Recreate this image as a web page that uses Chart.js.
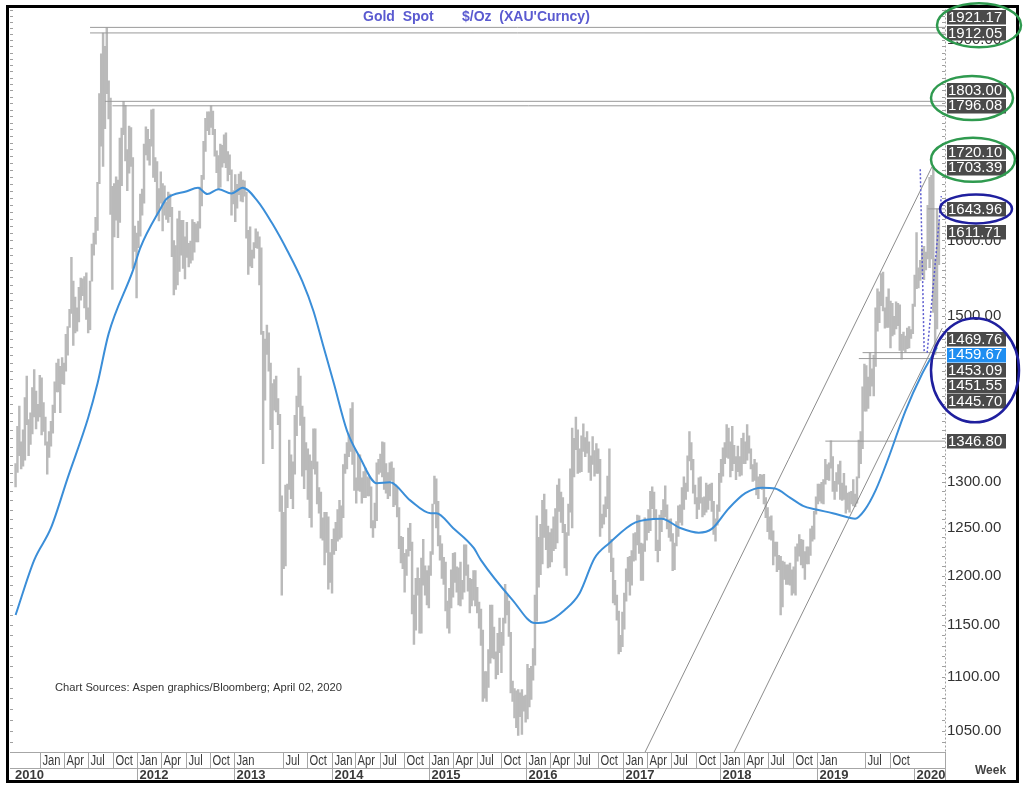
<!DOCTYPE html>
<html><head><meta charset="utf-8">
<script src="https://cdn.jsdelivr.net/npm/chart.js@4"></script>
<style>html,body{margin:0;padding:0;background:#fff}canvas{display:block}</style>
</head><body>
<canvas id="c" width="1024" height="788"></canvas>
<script>
// ---------- DATA ----------
const startDate = '2010-10-01';   // week-ending date of the first weekly bar
const axisStart = '2010-09-10';
const axisEnd = '2020-04-26';

// weekly [low, high] gold spot, $/oz
const w2010 = [[1295,1321],[1311,1364],[1330,1388],[1315,1346],[1318,1360],[1325,1398],[1366,1424],[1330,1372],[1343,1380],[1355,1410],[1375,1432],[1361,1406],[1370,1390],[1375,1425]];
const w2011 = [[1354,1422],[1358,1392],[1342,1375],[1309,1346],[1328,1358],[1341,1370],[1356,1389],[1380,1417],[1405,1440],[1405,1445],[1380,1436],[1415,1447],[1414,1440],[1430,1476],[1450,1486],[1485,1508],[1503,1577],[1462,1545],[1478,1524],[1480,1510],[1492,1537],[1520,1549],[1526,1548],[1510,1551],[1495,1556],[1478,1510],[1482,1545],[1545,1595],[1580,1610],[1595,1632],[1614,1682],[1680,1815],[1735,1878],[1705,1912],[1761,1890],[1815,1921],[1776,1835],[1636,1808],[1534,1676],[1605,1680],[1628,1690],[1604,1685],[1625,1747],[1677,1762],[1752,1803],[1713,1797],[1670,1730],[1695,1765],[1705,1763],[1562,1718],[1585,1620],[1523,1610]];
const w2012 = [[1590,1627],[1606,1665],[1635,1672],[1652,1738],[1722,1764],[1714,1760],[1707,1745],[1735,1790],[1689,1791],[1683,1718],[1635,1712],[1627,1673],[1652,1697],[1613,1680],[1635,1677],[1629,1654],[1625,1668],[1633,1665],[1578,1646],[1527,1600],[1534,1593],[1540,1630],[1558,1641],[1580,1628],[1562,1628],[1548,1605],[1577,1625],[1564,1596],[1569,1599],[1573,1629],[1584,1625],[1598,1623],[1598,1626],[1617,1675],[1648,1692],[1686,1742],[1727,1777],[1758,1787],[1752,1787],[1763,1796],[1752,1788],[1720,1760],[1696,1728],[1672,1721],[1675,1738],[1704,1736],[1710,1752],[1703,1755],[1684,1727],[1693,1722],[1635,1700],[1651,1670]];
const w2013 = [[1626,1693],[1645,1679],[1664,1694],[1655,1697],[1654,1685],[1662,1684],[1603,1668],[1554,1614],[1565,1619],[1563,1587],[1576,1597],[1590,1616],[1589,1612],[1540,1605],[1476,1590],[1321,1480],[1395,1470],[1451,1488],[1430,1478],[1360,1440],[1338,1415],[1383,1420],[1381,1424],[1366,1397],[1268,1378],[1180,1285],[1207,1267],[1210,1297],[1272,1298],[1292,1348],[1282,1331],[1271,1323],[1309,1377],[1353,1400],[1387,1434],[1365,1424],[1307,1388],[1293,1375],[1314,1345],[1281,1338],[1261,1331],[1251,1324],[1315,1361],[1309,1361],[1276,1323],[1266,1294],[1239,1289],[1237,1261],[1211,1267],[1224,1267],[1186,1262],[1193,1224]];
const w2014 = [[1182,1238],[1222,1249],[1226,1256],[1236,1270],[1238,1280],[1240,1274],[1261,1320],[1310,1332],[1315,1345],[1329,1355],[1335,1385],[1320,1392],[1291,1338],[1277,1305],[1291,1332],[1290,1331],[1277,1305],[1283,1312],[1283,1316],[1285,1306],[1285,1305],[1250,1295],[1240,1258],[1250,1277],[1258,1322],[1309,1326],[1311,1332],[1306,1346],[1292,1345],[1288,1321],[1282,1311],[1285,1322],[1302,1323],[1273,1316],[1275,1297],[1262,1294],[1228,1272],[1213,1241],[1207,1240],[1183,1223],[1200,1227],[1220,1250],[1226,1255],[1161,1235],[1131,1180],[1145,1197],[1180,1208],[1142,1197],[1142,1218],[1190,1238],[1180,1210],[1170,1205]];
const w2015 = [[1167,1210],[1200,1225],[1222,1276],[1276,1307],[1250,1304],[1231,1279],[1216,1242],[1197,1233],[1191,1219],[1164,1214],[1147,1174],[1142,1187],[1167,1206],[1178,1223],[1193,1224],[1183,1209],[1170,1208],[1169,1214],[1176,1195],[1183,1232],[1200,1232],[1184,1211],[1162,1197],[1169,1196],[1175,1205],[1169,1205],[1162,1188],[1147,1173],[1130,1166],[1077,1145],[1080,1105],[1077,1105],[1090,1126],[1113,1170],[1118,1170],[1117,1148],[1098,1124],[1102,1142],[1123,1157],[1104,1143],[1130,1157],[1152,1191],[1160,1180],[1139,1174],[1085,1143],[1077,1096],[1062,1089],[1053,1087],[1046,1088],[1063,1085],[1047,1088],[1068,1082]];
const w2016 = [[1058,1083],[1061,1112],[1072,1108],[1079,1110],[1097,1127],[1111,1180],[1154,1263],[1188,1240],[1201,1254],[1212,1280],[1240,1287],[1227,1270],[1208,1252],[1209,1245],[1214,1249],[1226,1262],[1228,1271],[1234,1297],[1268,1304],[1256,1289],[1245,1283],[1208,1254],[1200,1245],[1242,1276],[1267,1315],[1250,1362],[1306,1350],[1337,1375],[1310,1360],[1311,1338],[1312,1353],[1335,1367],[1329,1351],[1333,1358],[1311,1346],[1302,1330],[1320,1352],[1307,1336],[1310,1344],[1310,1338],[1241,1326],[1250,1265],[1254,1275],[1262,1284],[1271,1307],[1224,1338],[1204,1238],[1172,1218],[1170,1195],[1155,1180],[1122,1164],[1124,1140],[1129,1163]];
const w2017 = [[1146,1182],[1174,1207],[1194,1219],[1180,1220],[1190,1226],[1215,1244],[1216,1245],[1232,1264],[1223,1263],[1195,1234],[1195,1233],[1225,1261],[1237,1259],[1245,1270],[1247,1290],[1271,1295],[1260,1289],[1226,1270],[1214,1237],[1226,1264],[1246,1269],[1259,1281],[1262,1296],[1249,1275],[1240,1259],[1236,1260],[1205,1244],[1206,1234],[1231,1257],[1241,1274],[1256,1275],[1253,1294],[1270,1306],[1281,1299],[1290,1330],[1324,1358],[1314,1345],[1288,1326],[1276,1297],[1260,1283],[1270,1305],[1277,1306],[1262,1283],[1264,1284],[1267,1299],[1270,1297],[1280,1298],[1268,1299],[1243,1279],[1236,1260],[1253,1275],[1268,1310]];
const w2018 = [[1300,1326],[1307,1339],[1321,1345],[1328,1366],[1327,1362],[1306,1346],[1313,1364],[1321,1342],[1303,1329],[1312,1341],[1307,1329],[1308,1350],[1321,1356],[1321,1346],[1325,1366],[1333,1353],[1315,1338],[1301,1320],[1302,1326],[1286,1322],[1282,1306],[1293,1309],[1292,1308],[1276,1309],[1261,1283],[1246,1272],[1238,1262],[1237,1263],[1211,1247],[1220,1235],[1204,1235],[1206,1221],[1160,1220],[1168,1215],[1196,1214],[1191,1211],[1191,1211],[1190,1213],[1180,1206],[1182,1209],[1180,1230],[1215,1233],[1220,1243],[1211,1238],[1208,1237],[1196,1225],[1212,1230],[1212,1230],[1221,1249],[1236,1252],[1238,1268],[1265,1284]];
const w2019 = [[1276,1298],[1279,1298],[1277,1300],[1276,1303],[1298,1326],[1303,1320],[1302,1322],[1316,1347],[1290,1329],[1281,1301],[1290,1311],[1298,1320],[1281,1324],[1280,1299],[1281,1310],[1266,1296],[1270,1288],[1267,1289],[1276,1290],[1274,1303],[1273,1287],[1277,1306],[1305,1348],[1321,1358],[1338,1411],[1382,1439],[1382,1437],[1385,1423],[1400,1453],[1412,1433],[1400,1450],[1436,1510],[1480,1535],[1491,1531],[1513,1555],[1506,1557],[1484,1510],[1485,1524],[1485,1535],[1459,1519],[1474,1516],[1476,1499],[1483,1518],[1487,1516],[1456,1514],[1445,1476],[1456,1479],[1454,1474],[1458,1484],[1459,1486],[1471,1482],[1477,1515]];
const w2020 = [[1512,1553],[1535,1611],[1536,1563],[1546,1573],[1555,1589],[1547,1592],[1560,1584],[1575,1649],[1563,1689],[1575,1692],[1504,1703],[1451,1575],[1483,1644],[1567,1626]];

// 52-week moving average (week index, value)
const maWeek  = [0,10,19,28,39,44,50,63,67,78,81,92,98,103,109,116,122,130,138,146,154,160,165,171,178,185,194,201,212,223,226,235,246,250,267,279,285,295,303,311,319,333,347,357,367,374,383,392,401,408,416,423,430,439,448,451,456,462,469,478,487,495];
const maValue = [1160,1216,1250,1305,1374,1415,1477,1559,1590,1645,1658,1669,1674,1665,1672,1666,1674,1655,1623,1586,1545,1506,1464,1415,1359,1328,1299,1300,1280,1266,1266,1250,1229,1216,1175,1152,1153,1165,1182,1218,1234,1256,1260,1250,1245,1249,1271,1288,1294,1293,1283,1274,1270,1266,1261,1260,1269,1291,1328,1382,1427,1459.67];

// horizontal levels (value, week where the line starts)
const levelValues    = [1921.17,1912.05,1803.00,1796.08,1643.96,1453.09,1445.70,1346.80];
const levelStartWeek = [40,40,48,52,490,455,453,435];

// channel & dip annotations as [week, value]
const trendUpper = [[338.2,1031.3],[492.4,1705]];
const trendLower = [[386.0,1031.3],[497.8,1484]];
const dipLeft    = [[486.0,1701],[488.1,1453]];
const dipRight   = [[489.7,1453],[497.3,1662]];

// axis labels
const yTicks = [1050,1100,1150,1200,1250,1300,1500,1600,1900];
const yMin = 1031.3, yMax = 1950.9;
const monthNames = ['Jan','Feb','Mar','Apr','May','Jun','Jul','Aug','Sep','Oct','Nov','Dec'];
const monthTicks = ['2011-01-01','2011-04-01','2011-07-01','2011-10-01','2012-01-01','2012-04-01','2012-07-01','2012-10-01','2013-01-01','2013-07-01','2013-10-01','2014-01-01','2014-04-01','2014-07-01','2014-10-01','2015-01-01','2015-04-01','2015-07-01','2015-10-01','2016-01-01','2016-04-01','2016-07-01','2016-10-01','2017-01-01','2017-04-01','2017-07-01','2017-10-01','2018-01-01','2018-04-01','2018-07-01','2018-10-01','2019-01-01','2019-07-01','2019-10-01'];
const firstYearLabel = '2010';
const yearTicks = ['2012','2013','2014','2015','2016','2017','2018','2019','2020'];

// right-hand value boxes
const rightLabels = [1921.17,1912.05,1803.00,1796.08,1720.10,1703.39,1643.96,1611.71,1469.76,1459.67,1453.09,1451.55,1445.70,1346.80];
const lastPrice = 1611.71;
const maLabel = 1459.67;
const ellipseGroups = [[1921.17,1912.05],[1803.00,1796.08],[1720.10,1703.39],[1643.96],[1469.76,1459.67,1453.09,1451.55,1445.70]];

const titleText = ['Gold  Spot', "$/Oz  (XAU'Curncy)"];
const sourceText = 'Chart Sources: Aspen graphics/Bloomberg; April 02, 2020';

// ---------- STYLE ----------
const F = "'Liberation Sans', Arial, sans-serif";
const FN = "'Liberation Sans Narrow', 'Arial Narrow', 'Liberation Sans', Arial, sans-serif";
const ellipseColor = ['#2f9a4f','#2f9a4f','#2f9a4f','#1f1f9e','#1f1f9e'];
const ellipseDx = [34,27,28,31,30];
const ellipseRx = [42,41,42,36,44];
const ellipseRy = [22,22,22,14.5,52];

const weekly = [].concat(w2010,w2011,w2012,w2013,w2014,w2015,w2016,w2017,w2018,w2019,w2020);
const toWeek = d => (Date.parse(d) - Date.parse(startDate)) / 6048e5;
const xMin = toWeek(axisStart), xMax = toWeek(axisEnd);
const pts = arr => arr.map(p => ({x: p[0], y: p[1]}));

function placeLabels(y) {
  const ys = {};
  let prev = y.getPixelForValue(lastPrice);
  ys[lastPrice] = prev;
  rightLabels.filter(v => v > lastPrice).sort((a,b) => a-b).forEach(v => {
    const p = Math.min(y.getPixelForValue(v), prev - 15.5); ys[v] = p; prev = p;
  });
  prev = ys[lastPrice];
  rightLabels.filter(v => v < lastPrice).sort((a,b) => b-a).forEach(v => {
    const p = Math.max(y.getPixelForValue(v), prev + 15.5); ys[v] = p; prev = p;
  });
  return ys;
}

const decor = {
  id: 'decor',
  beforeDraw(chart) {
    const c = chart.ctx; c.save(); c.fillStyle = '#fff'; c.fillRect(0, 0, chart.width, chart.height); c.restore();
  },
  beforeDatasetsDraw(chart) {
    const {ctx, chartArea: a, scales: {y}} = chart;
    ctx.save();
    ctx.strokeStyle = '#a0a0a0'; ctx.lineWidth = 1;
    for (let v = 1040; v <= 1950; v += 10) {
      const p = Math.round(y.getPixelForValue(v)) + 0.5;
      if (p < a.top || p > a.bottom) continue;
      ctx.beginPath();
      ctx.moveTo(a.left, p); ctx.lineTo(a.left + 3, p);
      ctx.moveTo(a.right - 3, p); ctx.lineTo(a.right, p);
      ctx.stroke();
    }
    ctx.setLineDash([2, 2]);
    ctx.beginPath(); ctx.moveTo(a.right + 0.5, a.top); ctx.lineTo(a.right + 0.5, a.bottom); ctx.stroke();
    ctx.setLineDash([]);
    ctx.fillStyle = '#5a5ad0'; ctx.font = 'bold 14px ' + F; ctx.textBaseline = 'middle'; ctx.textAlign = 'left';
    ctx.fillText(titleText[0], 363, 17);
    ctx.fillText(titleText[1], 462, 17);
    ctx.fillStyle = '#333';
    ctx.font = '12px ' + FN;
    const w = ctx.measureText(sourceText).width;
    const fs = 12 * 287 / w;
    ctx.font = fs.toFixed(2) + 'px ' + FN;
    ctx.fillText(sourceText, 55, 688);
    ctx.restore();
  },
  afterDraw(chart) {
    const {ctx, chartArea: a, scales: {x, y}} = chart;
    ctx.save();
    const hl = (x1, x2, yy) => { ctx.beginPath(); ctx.moveTo(x1, yy); ctx.lineTo(x2, yy); ctx.stroke(); };
    const vl = (xx, y1, y2) => { ctx.beginPath(); ctx.moveTo(xx, y1); ctx.lineTo(xx, y2); ctx.stroke(); };
    const r1 = a.bottom, r2 = a.bottom + 16, r3 = a.bottom + 29;
    ctx.strokeStyle = '#a6a6a6'; ctx.lineWidth = 1;
    hl(a.left, a.right, r1 + 0.5); hl(a.left, a.right, r2 + 0.5);
    vl(a.right + 0.5, r1, r3);
    ctx.fillStyle = '#3a3a3a'; ctx.textBaseline = 'middle'; ctx.textAlign = 'left';
    ctx.font = '14px ' + F;
    monthTicks.forEach(d => {
      const px = Math.round(x.getPixelForValue(toWeek(d))) + 0.5;
      vl(px, r1, r2);
      ctx.save();
      ctx.translate(px + 2, r1 + 9);
      ctx.scale(0.8, 1);
      ctx.fillText(monthNames[+d.slice(5, 7) - 1], 0, 0);
      ctx.restore();
    });
    ctx.font = 'bold 13px ' + F;
    ctx.fillText(firstYearLabel, a.left + 5, r2 + 7);
    yearTicks.forEach(yr => {
      const px = Math.round(x.getPixelForValue(toWeek(yr + '-01-01'))) + 0.5;
      vl(px, r2, r3);
      ctx.fillText(yr, px + 2, r2 + 7);
    });
    ctx.font = 'bold 12px ' + F; ctx.fillStyle = '#444';
    ctx.fillText('Week', a.right + 30, r2 + 3);

    // frame
    ctx.strokeStyle = '#000'; ctx.lineWidth = 3;
    ctx.strokeRect(7.5, 6.5, 1010, 775);

    // value boxes
    const ys = placeLabels(y);
    ctx.font = '15px ' + F;
    rightLabels.forEach(v => {
      const cy = ys[v];
      ctx.fillStyle = v === maLabel ? '#1f8ef1' : '#4a4a4a';
      ctx.fillRect(a.right + 2, Math.round(cy - 7), 59, 14.5);
      ctx.fillStyle = '#fff';
      ctx.fillText(v.toFixed(2), a.right + 3, cy + 0.5);
    });
    ellipseGroups.forEach((g, i) => {
      const ya = ys[g[0]], yb = ys[g[g.length - 1]];
      ctx.strokeStyle = ellipseColor[i]; ctx.lineWidth = 2.5;
      ctx.beginPath();
      ctx.ellipse(a.right + ellipseDx[i], (ya + yb) / 2, ellipseRx[i], ellipseRy[i], 0, 0, Math.PI * 2);
      ctx.stroke();
    });
    ctx.restore();
  }
};

const lineBase = {type: 'line', pointRadius: 0, borderWidth: 1, fill: false};
const datasets = [
  {type: 'bar', data: weekly.map((p, i) => ({x: i, y: p})), backgroundColor: '#bababa', barThickness: 1.8, order: 5},
  ...levelValues.map((v, i) => Object.assign({}, lineBase, {data: [{x: levelStartWeek[i], y: v}, {x: xMax, y: v}], borderColor: '#9a9a9a', order: 4})),
  Object.assign({}, lineBase, {data: pts(trendUpper), borderColor: '#8c8c8c', order: 3}),
  Object.assign({}, lineBase, {data: pts(trendLower), borderColor: '#8c8c8c', order: 3}),
  Object.assign({}, lineBase, {data: maWeek.map((w, i) => ({x: w, y: maValue[i]})), borderColor: '#3b8ed8', borderWidth: 2, cubicInterpolationMode: 'monotone', order: 2}),
  Object.assign({}, lineBase, {data: pts(dipLeft), borderColor: '#5c5ccf', borderWidth: 1.5, borderDash: [2, 2], order: 1}),
  Object.assign({}, lineBase, {data: pts(dipRight), borderColor: '#5c5ccf', borderWidth: 1.5, borderDash: [2, 2], order: 1})
];

new Chart(document.getElementById('c'), {
  type: 'bar',
  data: {datasets},
  options: {
    responsive: false, animation: false, events: [],
    layout: {padding: {left: 10, right: 8, top: 8, bottom: 36}},
    plugins: {legend: {display: false}, tooltip: {enabled: false}},
    scales: {
      x: {type: 'linear', min: xMin, max: xMax, display: false, offset: false, grid: {offset: false}},
      y: {
        type: 'logarithmic', position: 'right', min: yMin, max: yMax,
        afterBuildTicks: s => { s.ticks = yTicks.map(v => ({value: v})); },
        afterFit: s => { s.width = 71; },
        ticks: {callback: v => Number(v).toFixed(2), color: '#333', font: {family: F, size: 15, lineHeight: 1}, padding: 2, autoSkip: false},
        grid: {display: false, drawTicks: false},
        border: {display: false}
      }
    }
  },
  plugins: [decor]
});
</script>
</body></html>
